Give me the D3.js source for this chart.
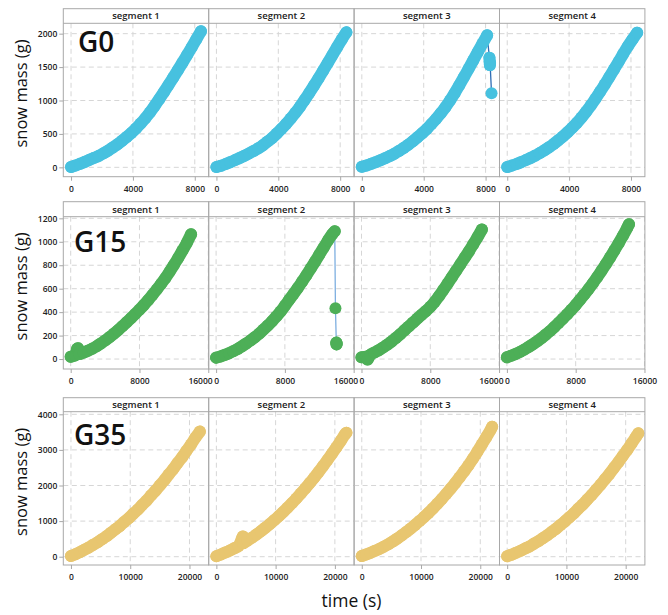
<!DOCTYPE html>
<html>
<head>
<meta charset="utf-8">
<script src="https://cdn.jsdelivr.net/npm/d3@7"></script>
<style>
  html, body { margin: 0; padding: 0; background: #fff; }
  svg { display: block; font-family: "Open Sans", "Noto Sans", sans-serif; }
</style>
</head>
<body>
<svg id="chart" width="668" height="615"></svg>
<script>
// ---- data -------------------------------------------------------------
const segmentNames = ["segment 1", "segment 2", "segment 3", "segment 4"];
const groupNames = ["G0", "G15", "G35"];

// time stamps (s) of the readings, one grid per group
const timeG0 = [0, 300, 600, 900, 1200, 1500, 1800, 2100, 2400, 2700, 3000, 3300, 3600, 3900, 4200,
  4500, 4800, 5100, 5400, 5700, 6000, 6300, 6600, 6900, 7200, 7500, 7800, 8100, 8400];
const timeG15 = [0, 500, 1000, 1500, 2000, 2500, 3000, 3500, 4000, 4500, 5000, 5500, 6000, 6500, 7000,
  7500, 8000, 8500, 9000, 9500, 10000, 10500, 11000, 11500, 12000, 12500, 13000, 13500, 14000];
const timeG35 = [0, 750, 1500, 2250, 3000, 3750, 4500, 5250, 6000, 6750, 7500, 8250, 9000, 9750, 10500,
  11250, 12000, 12750, 13500, 14250, 15000, 15750, 16500, 17250, 18000, 18750, 19500, 20250, 21000, 21750];

// snow mass (g) per segment, aligned with the time grid of the group
const massG0 = [
  [5, 28, 55, 82, 112, 142, 172, 210, 250, 298, 345, 398, 455, 515, 582, 655, 735, 822, 918, 1020, 1125, 1232, 1341, 1452, 1565, 1680, 1797, 1916, 2037],
  [5, 25, 50, 78, 108, 140, 172, 208, 245, 285, 330, 385, 440, 505, 575, 650, 730, 815, 908, 1008, 1112, 1220, 1332, 1446, 1562, 1680, 1798, 1912, 2020],
  [8, 28, 52, 78, 105, 135, 168, 205, 245, 290, 338, 392, 450, 510, 575, 648, 725, 808, 900, 1000, 1110, 1228, 1350, 1474, 1600, 1726, 1852, 1975],
  [5, 26, 50, 78, 108, 140, 175, 213, 255, 300, 350, 405, 462, 525, 592, 665, 745, 832, 925, 1025, 1130, 1238, 1350, 1464, 1580, 1698, 1812, 1915, 2015]
];
const massG15 = [
  [20, 30, 42, 55, 70, 88, 108, 132, 158, 186, 215, 246, 279, 313, 348, 384, 421, 460, 502, 546, 592, 640, 690, 745, 803, 862, 925, 990, 1065],
  [12, 22, 35, 50, 67, 86, 108, 132, 158, 186, 216, 250, 285, 322, 362, 405, 455, 505, 555, 606, 660, 715, 772, 830, 890, 950, 1010, 1065],
  [15, 20, 35, 55, 75, 98, 122, 150, 180, 212, 245, 278, 312, 345, 378, 410, 445, 487, 535, 588, 642, 697, 752, 808, 864, 920, 980, 1040, 1105],
  [15, 28, 43, 60, 80, 102, 125, 150, 178, 207, 238, 272, 307, 343, 380, 420, 461, 505, 550, 597, 646, 698, 752, 808, 866, 926, 988, 1052, 1120]
];
const massG35 = [
  [20, 70, 128, 195, 258, 335, 406, 493, 575, 672, 768, 865, 978, 1082, 1205, 1320, 1450, 1575, 1718, 1852, 2003, 2148, 2308, 2462, 2634, 2796, 2978, 3150, 3342, 3515],
  [15, 62, 115, 172, 235, 302, 375, 452, 535, 622, 714, 812, 915, 1022, 1135, 1252, 1375, 1503, 1636, 1774, 1918, 2067, 2221, 2380, 2545, 2715, 2890, 3070, 3255, 3445],
  [20, 65, 112, 165, 222, 285, 352, 430, 512, 600, 692, 790, 893, 1000, 1112, 1230, 1355, 1485, 1622, 1764, 1912, 2066, 2226, 2392, 2564, 2750, 2945, 3150, 3355, 3565],
  [15, 58, 112, 164, 228, 289, 363, 435, 519, 601, 695, 787, 891, 993, 1108, 1219, 1345, 1465, 1600, 1732, 1878, 2018, 2174, 2325, 2490, 2652, 2828, 2998, 3186, 3367]
];

// off-grid readings [time, mass]: end points, drops and stray values
const extraG0 = [[], [], [[8250, 1640], [8265, 1585], [8280, 1530], [8290, 1565], [8385, 1110]], []];
const extraG15 = [[[750, 88], [850, 92]], [[13800, 1090], [13880, 433], [13980, 140], [14000, 125], [14030, 132]], [[700, -5]], [[14200, 1150]]];
const extraG35 = [[], [[4400, 545], [4480, 570], [21950, 3480]], [[22000, 3650]], [[22130, 3466]]];

// axis ticks
const xTicksG0 = [0, 4000, 8000];
const xTicksG15 = [0, 8000, 16000];
const xTicksG35 = [0, 10000, 20000];
const yTicksG0 = [0, 500, 1000, 1500, 2000];
const yTicksG15 = [0, 200, 400, 600, 800, 1000, 1200];
const yTicksG35 = [0, 1000, 2000, 3000, 4000];

// ---- layout & style ---------------------------------------------------
const groups = [
  { name: groupNames[0], time: timeG0, mass: massG0, extra: extraG0, xTicks: xTicksG0, yTicks: yTicksG0,
    xDomain: [-500, 8900], yDomain: [-140, 2155], stripTop: 8.7, plotTop: 23.3, plotBottom: 176.7,
    fill: "#47c1df", line: "#2f6db5", labelX: 78, labelY: 51.7 },
  { name: groupNames[1], time: timeG15, mass: massG15, extra: extraG15, xTicks: xTicksG15, yTicks: yTicksG15,
    xDomain: [-860, 16050], yDomain: [-85, 1214], stripTop: 201.7, plotTop: 216.7, plotBottom: 369,
    fill: "#4daf57", line: "#7eafe0", labelX: 74, labelY: 251.7 },
  { name: groupNames[2], time: timeG35, mass: massG35, extra: extraG35, xTicks: xTicksG35, yTicks: yTicksG35,
    xDomain: [-1294, 23244], yDomain: [-233, 4073], stripTop: 397.7, plotTop: 411.7, plotBottom: 565,
    fill: "#e8c670", line: "#e0bd62", labelX: 74, labelY: 445 }
];

const panelLeft = 63.3;
const panelW = 145.4;
const frameColor = "#a8a8a8";
const gridColor = "#d6d6d6";
const textColor = "#222";
const radius = 6;
const joinGap = 12;   // readings closer than this (px) merge into one continuous trace

const svg = d3.select("#chart");

groups.forEach(g => {
  segmentNames.forEach((segName, s) => {
    const x0 = panelLeft + s * panelW;
    const x = d3.scaleLinear().domain(g.xDomain).range([x0, x0 + panelW]);
    const y = d3.scaleLinear().domain(g.yDomain).range([g.plotBottom, g.plotTop]);
    const panel = svg.append("g");

    // dashed grid
    panel.append("g").selectAll("line").data(g.yTicks).join("line")
      .attr("x1", x0).attr("x2", x0 + panelW)
      .attr("y1", d => y(d)).attr("y2", d => y(d))
      .attr("stroke", gridColor).attr("stroke-width", 1).attr("stroke-dasharray", "5,3.5");
    panel.append("g").selectAll("line").data(g.xTicks).join("line")
      .attr("x1", d => x(d)).attr("x2", d => x(d))
      .attr("y1", g.plotTop).attr("y2", g.plotBottom)
      .attr("stroke", gridColor).attr("stroke-width", 1).attr("stroke-dasharray", "5,3.5");

    // group label in the first panel of each row
    if (s === 0) {
      panel.append("text")
        .attr("x", g.labelX).attr("y", g.labelY)
        .attr("font-size", 28).attr("font-weight", 600).attr("fill", "#111")
        .text(g.name);
    }

    // readings of this segment, in time order
    const pts = g.mass[s].map((m, i) => [g.time[i], m])
      .concat(g.extra[s])
      .sort((a, b) => a[0] - b[0]);

    // thin connecting line through every reading
    const lineGen = d3.line().x(d => x(d[0])).y(d => y(d[1]));
    panel.append("path")
      .datum(pts)
      .attr("fill", "none")
      .attr("stroke", g.line)
      .attr("stroke-width", 1.3)
      .attr("d", lineGen);

    // consecutive readings that sit close together form a continuous run
    const runs = [];
    let run = [pts[0]];
    for (let i = 1; i < pts.length; i++) {
      const dx = x(pts[i][0]) - x(pts[i - 1][0]);
      const dy = y(pts[i][1]) - y(pts[i - 1][1]);
      if (Math.hypot(dx, dy) < joinGap) run.push(pts[i]);
      else { runs.push(run); run = [pts[i]]; }
    }
    runs.push(run);

    panel.append("g").selectAll("path").data(runs.filter(r => r.length > 1)).join("path")
      .attr("fill", "none")
      .attr("stroke", g.fill)
      .attr("stroke-width", radius * 2)
      .attr("stroke-linecap", "round")
      .attr("stroke-linejoin", "round")
      .attr("d", d3.line().curve(d3.curveMonotoneX).x(d => x(d[0])).y(d => y(d[1])));

    panel.append("g").selectAll("circle").data(pts).join("circle")
      .attr("cx", d => x(d[0]))
      .attr("cy", d => y(d[1]))
      .attr("r", radius)
      .attr("fill", g.fill);

    // frame and strip
    panel.append("rect")
      .attr("x", x0).attr("y", g.stripTop)
      .attr("width", panelW).attr("height", g.plotBottom - g.stripTop)
      .attr("fill", "none").attr("stroke", frameColor).attr("stroke-width", 1);
    panel.append("line")
      .attr("x1", x0).attr("x2", x0 + panelW)
      .attr("y1", g.plotTop).attr("y2", g.plotTop)
      .attr("stroke", frameColor).attr("stroke-width", 1);
    panel.append("text")
      .attr("x", x0 + panelW / 2).attr("y", g.plotTop - 4)
      .attr("text-anchor", "middle")
      .attr("font-size", 9.5).attr("font-weight", 600).attr("fill", textColor)
      .text(segName);

    // x axis
    const xa = panel.append("g")
      .attr("transform", `translate(0,${g.plotBottom})`)
      .call(d3.axisBottom(x).tickValues(g.xTicks).tickFormat(d3.format("d")).tickSize(4).tickSizeOuter(0).tickPadding(5));
    xa.select(".domain").remove();
    xa.selectAll(".tick line").attr("stroke", frameColor);
    xa.selectAll(".tick text").attr("fill", textColor).attr("font-size", 8.5).attr("font-weight", 600)
      .attr("font-family", "\"Open Sans\", sans-serif");

    // a label that would run into the next panel's first label ends at the panel edge instead
    if (s < segmentNames.length - 1) {
      xa.selectAll(".tick").each(function (d) {
        const t = d3.select(this).select("text");
        const half = t.node().getComputedTextLength() / 2;
        const limit = x0 + panelW + 3.5;
        if (x(d) + half > limit) {
          t.attr("text-anchor", "end").attr("x", limit - x(d));
        }
      });
    }

    // y axis on the first panel
    if (s === 0) {
      const ya = panel.append("g")
        .attr("transform", `translate(${x0},0)`)
        .call(d3.axisLeft(y).tickValues(g.yTicks).tickFormat(d3.format("d")).tickSize(4).tickSizeOuter(0).tickPadding(2));
      ya.select(".domain").remove();
      ya.selectAll(".tick line").attr("stroke", frameColor);
      ya.selectAll(".tick text").attr("fill", textColor).attr("font-size", 8.5).attr("font-weight", 600)
        .attr("font-family", "\"Open Sans\", sans-serif");

      svg.append("text")
        .attr("transform", `translate(27,${(g.plotTop + g.plotBottom) / 2 - 6.5}) rotate(-90)`)
        .attr("text-anchor", "middle")
        .attr("font-size", 16.5).attr("fill", "#111")
        .text("snow mass (g)");
    }
  });
});

// shared x title
svg.append("text")
  .attr("x", 351.5).attr("y", 606.5)
  .attr("text-anchor", "middle")
  .attr("font-size", 17.5).attr("fill", "#111")
  .text("time (s)");
</script>
</body>
</html>
